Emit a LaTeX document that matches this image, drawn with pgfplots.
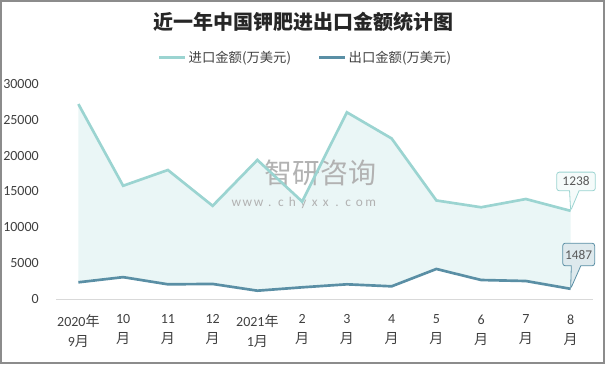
\documentclass[border=0pt]{standalone}
\usepackage{pgfplots}
\pgfplotsset{compat=1.18}
\usetikzlibrary{shapes.callouts}
\usepackage{fontspec}
\setmainfont{Carlito}
\newfontfamily\cjk{Noto Sans CJK SC}
\definecolor{impc}{HTML}{9BD4D1}
\definecolor{expc}{HTML}{5A8FA5}
\definecolor{fillc}{HTML}{EAF6F6}
\definecolor{axgray}{HTML}{D9D9D9}
\definecolor{txt}{HTML}{404040}
\definecolor{frame}{HTML}{8C8C8C}
\newcommand\wl[1]{\makebox[8.4pt]{#1}}
\begin{document}
\begin{tikzpicture}
\useasboundingbox (0pt,0pt) rectangle (453.75pt,273pt);
\draw[frame, line width=1.2pt] (0.6pt,0.6pt) rectangle (453.15pt,272.4pt);
\node[font=\cjk\bfseries\fontsize{15}{18}\selectfont, text=black!85] at (227.25pt,256.5pt) {近一年中国钾肥进出口金额统计图};
\begin{axis}[
  at={(42pt,48.75pt)}, anchor=south west,
  scale only axis, width=402.75pt, height=161.25pt,
  xmin=-0.5, xmax=11.5, ymin=0, ymax=30000,
  axis x line*=bottom, axis y line*=left,
  x axis line style={draw=axgray, line width=0.75pt},
  y axis line style={draw=none},
  major tick length=0pt,
  clip=false,
  xtick={0,...,11},
  xticklabels={{2020{\cjk 年}\\9{\cjk 月}},{10\\{\cjk 月}},{11\\{\cjk 月}},{12\\{\cjk 月}},{2021{\cjk 年}\\1{\cjk 月}},{2\\{\cjk 月}},{3\\{\cjk 月}},{4\\{\cjk 月}},{5\\{\cjk 月}},{6\\{\cjk 月}},{7\\{\cjk 月}},{8\\{\cjk 月}}},
  xticklabel style={align=center, anchor=north, inner sep=0pt, yshift=-11.5pt, font=\fontsize{10.5}{15}\selectfont, text=txt},
  ytick={0,5000,...,30000},
  yticklabel style={anchor=east, inner sep=0pt, xshift=-12.75pt, font=\fontsize{10.5}{12}\selectfont, text=txt, /pgf/number format/1000 sep={}, /pgf/number format/assume math mode=true},
  scaled y ticks=false,
  legend style={at={(0.465,1.121)}, anchor=center, draw=none, fill=none, legend columns=2,
    font=\cjk\fontsize{10}{12}\selectfont, text=txt,
    /tikz/every even column/.append style={column sep=18pt}},
  legend image code/.code={\draw[#1, line width=2.25pt] (0pt,0pt) -- (19pt,0pt);},
]
\addplot[fill=fillc, draw=none, forget plot] coordinates {
 (0,27200) (1,15800) (2,18000) (3,13000) (4,19400) (5,13600)
 (6,26050) (7,22400) (8,13750) (9,12800) (10,13950) (11,12300)
 (11,1420) (10,2510) (9,2650) (8,4190) (7,1770) (6,2050)
 (5,1630) (4,1160) (3,2100) (2,2050) (1,3050) (0,2330)} -- cycle;
\node[font=\cjk\fontsize{21}{23}\selectfont, text=black!30] at (axis cs:5.41,17580) {智研咨询};
\node[font=\fontsize{10}{11}\selectfont, text=black!30, inner sep=0pt] at (axis cs:5.03,13400) {\wl{w}\wl{w}\wl{w}\wl{.}\wl{c}\wl{h}\wl{y}\wl{x}\wl{x}\wl{.}\wl{c}\wl{o}\wl{m}};
\addplot[impc, line width=2pt] coordinates {
 (0,27200) (1,15800) (2,18000) (3,13000) (4,19400) (5,13600)
 (6,26050) (7,22400) (8,13750) (9,12800) (10,13950) (11,12300)};
\addlegendentry{进口金额(万美元)}
\addplot[expc, line width=2pt] coordinates {
 (0,2330) (1,3050) (2,2050) (3,2100) (4,1160) (5,1630)
 (6,2050) (7,1770) (8,4190) (9,2650) (10,2510) (11,1420)};
\addlegendentry{出口金额(万美元)}
\coordinate (p1) at (axis cs:11,12300);
\coordinate (b1) at (axis cs:11.12,16400);
\coordinate (p2) at (axis cs:11,1420);
\coordinate (b2) at (axis cs:11.18,6210);
\end{axis}
\node[rectangle callout, callout absolute pointer={(p1)}, rounded corners=2pt,
  draw=impc, fill=white!90!impc, line width=0.6pt, minimum width=29pt, minimum height=14pt, inner sep=0pt,
  font=\fontsize{10}{12}\selectfont, text=black!65] at (b1) {1238};
\node[rectangle callout, callout absolute pointer={(p2)}, rounded corners=2pt,
  draw=expc, fill=expc!20, line width=0.6pt, minimum width=24pt, minimum height=17pt, inner sep=0pt,
  font=\fontsize{10}{12}\selectfont, text=black!65] at (b2) {1487};
\end{tikzpicture}
\end{document}
